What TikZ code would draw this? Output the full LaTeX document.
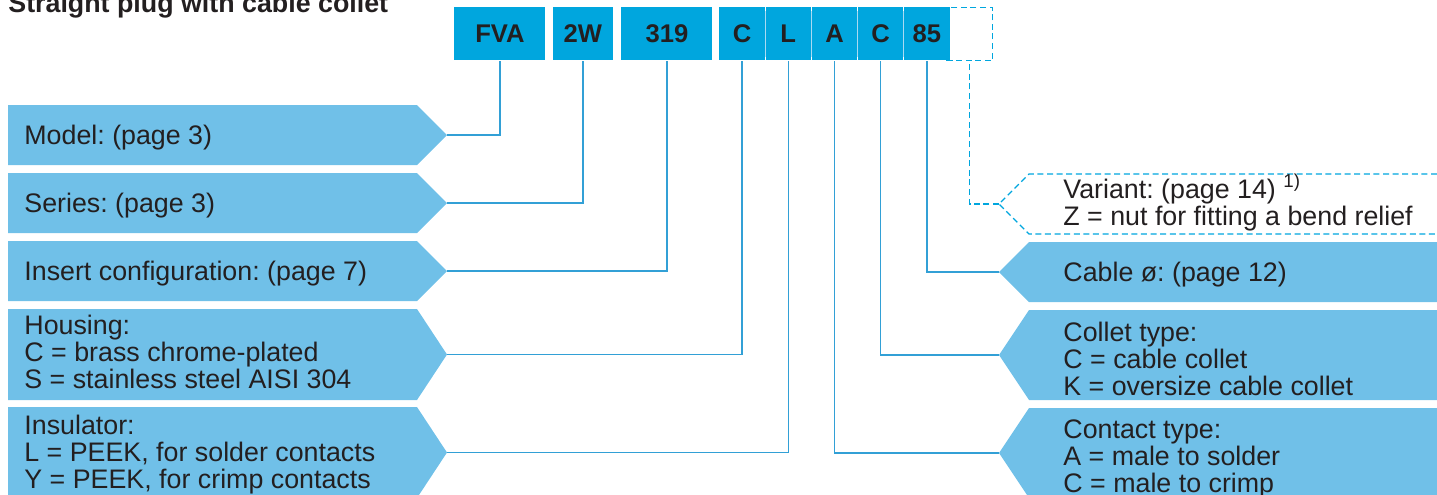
\documentclass[tikz,border=0pt]{standalone}
\usepackage{fontspec}
\setmainfont{Liberation Sans}
\usetikzlibrary{positioning}
\frenchspacing

\definecolor{codecyan}{RGB}{0,166,222}
\definecolor{tagblue}{RGB}{112,192,232}
\definecolor{leaderblue}{RGB}{50,160,214}
\definecolor{inkgrey}{RGB}{35,31,32}
\definecolor{dividerblue}{RGB}{170,218,242}

\tikzset{
  codecell/.style={fill=codecyan, text=inkgrey, font=\fontsize{12.8}{13.25}\selectfont\bfseries,
    minimum height=26.5pt, inner sep=0pt, anchor=north west},
  tagtext/.style={text=inkgrey, font=\fontsize{13.4}{13.25}\selectfont, inner sep=0pt, anchor=base west},
  tagfill/.style={fill=tagblue},
  leader/.style={draw=leaderblue, line width=0.65pt},
  dashleader/.style={draw=codecyan, line width=0.65pt, dash pattern=on 3pt off 1.8pt},
}

\begin{document}
\begin{tikzpicture}[x=0.5pt, y=-0.5pt]
    \useasboundingbox (0,0) rectangle (1437,494);

    % Title
    \node[tagtext, font=\fontsize{13.4}{13.25}\selectfont\bfseries] (title) at (8,12.5) {Straight plug with cable collet};

    % Ordering code
    \node[codecell, fill=white, dashleader, minimum width=23pt] (opt) at (946,7) {};
    \node[codecell, minimum width=45.5pt] (fva) at (454,7) {FVA};
    \node[codecell, minimum width=30pt] (series) at (552.5,7) {2W};
    \node[codecell, minimum width=45.5pt] (insert) at (621,7) {319};
    \node[codecell, minimum width=22.7pt] (housing) at (719,7) {C};
    \node[codecell, minimum width=22.7pt, right=0pt of housing] (insulator) {L};
    \node[codecell, minimum width=22.7pt, right=0pt of insulator] (contact) {A};
    \node[codecell, minimum width=22.7pt, right=0pt of contact] (collet) {C};
    \node[codecell, minimum width=22.7pt, right=0pt of collet] (cable) {85};

    % Cell dividers
    \draw[dividerblue, line width=0.5pt] ([yshift=-2pt]housing.north east) -- ([yshift=2pt]housing.south east);
    \draw[dividerblue, line width=0.5pt] ([yshift=-2pt]insulator.north east) -- ([yshift=2pt]insulator.south east);
    \draw[dividerblue, line width=0.5pt] ([yshift=-2pt]contact.north east) -- ([yshift=2pt]contact.south east);
    \draw[dividerblue, line width=0.5pt] ([yshift=-2pt]collet.north east) -- ([yshift=2pt]collet.south east);

    % Left tags
    \fill[tagfill] (8,105) -- (417,105) -- (447,135) -- (417,165) -- (8,165) -- cycle;
    \coordinate (modeltip) at (447,135);
    \node[tagtext] (modeltag) at (24,144) {Model: (page 3)};

    \fill[tagfill] (8,173) -- (417,173) -- (447,203) -- (417,233) -- (8,233) -- cycle;
    \coordinate (seriestip) at (447,203);
    \node[tagtext] (seriestag) at (24,212) {Series: (page 3)};

    \fill[tagfill] (8,241) -- (417,241) -- (447,271) -- (417,301) -- (8,301) -- cycle;
    \coordinate (inserttip) at (447,271);
    \node[tagtext] (inserttag) at (24,280) {Insert configuration: (page 7)};

    \fill[tagfill] (8,309) -- (417,309) -- (447,354.5) -- (417,400) -- (8,400) -- cycle;
    \coordinate (housingtip) at (447,354.5);
    \node[tagtext] (housingtag) at (24,334) {\begin{tabular}[t]{@{}l@{}}Housing:\\ C = brass chrome-plated\\ S = stainless steel AISI 304\end{tabular}};

    \fill[tagfill] (8,407) -- (417,407) -- (447,452.5) -- (417,498) -- (8,498) -- cycle;
    \coordinate (insulatortip) at (447,452.5);
    \node[tagtext] (insulatortag) at (24,434) {\begin{tabular}[t]{@{}l@{}}Insulator:\\ L = PEEK, for solder contacts\\ Y = PEEK, for crimp contacts\end{tabular}};

    % Right tags
    \draw[dashleader] (1437,174) -- (1029,174) -- (999,204) -- (1029,234) -- (1437,234);
    \coordinate (varianttip) at (999,204);
    \node[tagtext] (varianttag) at (1063,198) {\begin{tabular}[t]{@{}l@{}}Variant: (page 14) \textsuperscript{1)}\\ Z = nut for fitting a bend relief\end{tabular}};

    \fill[tagfill] (1437,242) -- (1029,242) -- (999,272) -- (1029,302) -- (1437,302) -- cycle;
    \coordinate (cabletip) at (999,272);
    \node[tagtext] (cabletag) at (1063,281) {Cable ø: (page 12)};

    \fill[tagfill] (1437,310) -- (1029,310) -- (999,355) -- (1029,400) -- (1437,400) -- cycle;
    \coordinate (collettip) at (999,355);
    \node[tagtext] (collettag) at (1063,341) {\begin{tabular}[t]{@{}l@{}}Collet type:\\ C = cable collet\\ K = oversize cable collet\end{tabular}};

    \fill[tagfill] (1437,408) -- (1029,408) -- (999,453) -- (1029,498) -- (1437,498) -- cycle;
    \coordinate (contacttip) at (999,453);
    \node[tagtext] (contacttag) at (1063,438) {\begin{tabular}[t]{@{}l@{}}Contact type:\\ A = male to solder\\ C = male to crimp\end{tabular}};

    % Leaders
    \draw[leader] (modeltip) -| (fva.south);
    \draw[leader] (seriestip) -| (series.south);
    \draw[leader] (inserttip) -| (insert.south);
    \draw[leader] (housingtip) -| (housing.south);
    \draw[leader] (insulatortip) -| (insulator.south);
    \draw[leader] (contacttip) -| (contact.south);
    \draw[leader] (collettip) -| (collet.south);
    \draw[leader] (cabletip) -| (cable.south);
    \draw[dashleader] (varianttip) -| (opt.south);
\end{tikzpicture}
\end{document}
